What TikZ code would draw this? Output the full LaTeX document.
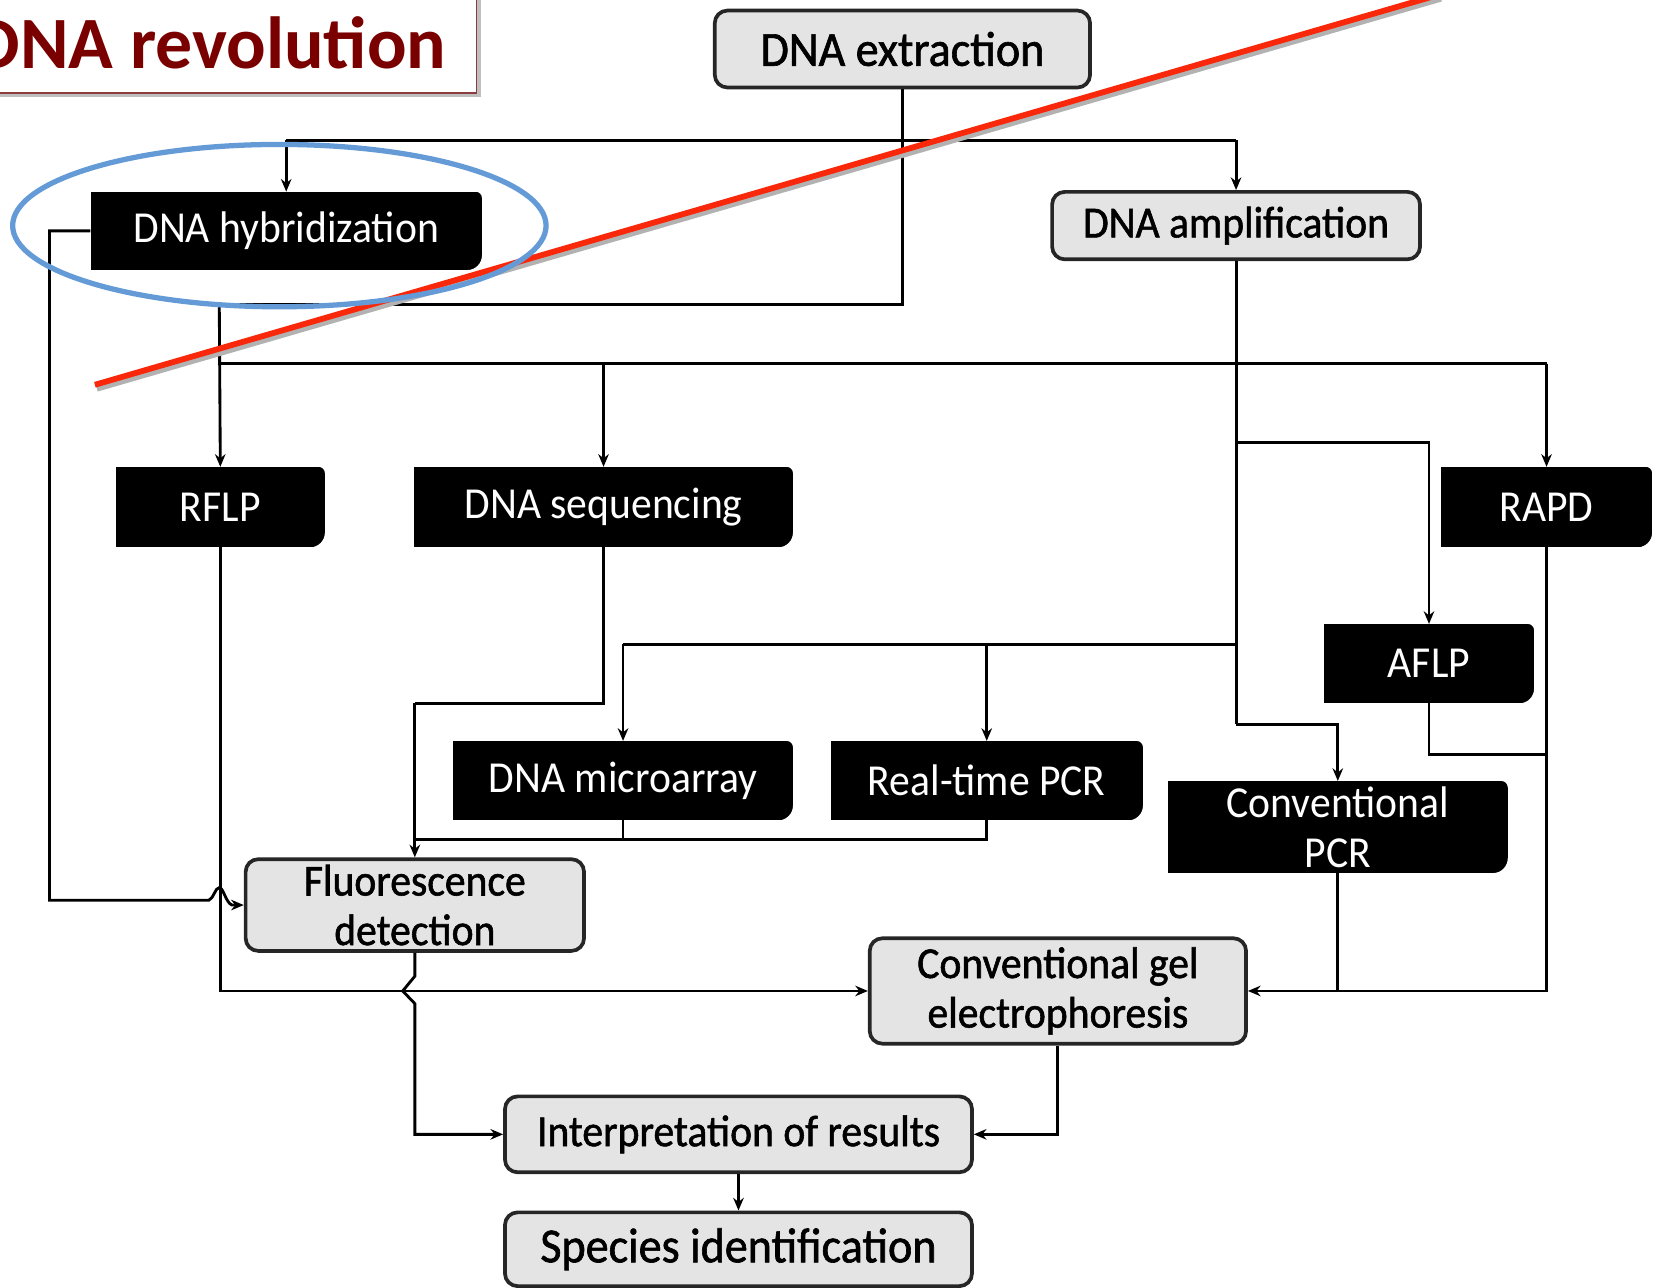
\documentclass[tikz,border=0pt]{standalone}
\usepackage{fontspec}
\setmainfont{Carlito}
\newfontfamily\boxfont[FakeStretch=0.94]{Carlito}
\newfontfamily\grayfont[FakeStretch=0.94,FakeBold=1.3]{Carlito}
\usetikzlibrary{arrows.meta,calc}
\definecolor{titlered}{RGB}{122,0,0}
\definecolor{framered}{RGB}{140,60,60}
\definecolor{ringblue}{RGB}{100,155,215}
\definecolor{slashred}{RGB}{250,40,10}
\definecolor{boxgray}{RGB}{228,228,228}
\begin{document}
\begin{tikzpicture}[x=1pt,y=-1pt,
  conn/.style={line width=2.7pt, draw=black},
  arr/.style={conn,-{Stealth[length=12pt,width=10pt]}},
  labelfont/.style={font=\boxfont\fontsize{42}{47}\selectfont},
  graybox/.style={font=\grayfont\fontsize{42}{47}\selectfont, draw=black!85, line width=3.5pt, fill=boxgray,
    rounded corners=12pt, inner sep=0pt, align=center},
  bigtext/.style={font=\grayfont\fontsize{46.5}{50}\selectfont},
  blackbox/.style={labelfont, fill=black, text=white, inner sep=0pt, align=center}
]
\useasboundingbox (0,0) rectangle (1568,1221);

% title panel
\fill[black!25] (-6,-6) rectangle (456,92);
\draw[framered, line width=1.6pt, fill=white] (-10,-10) rectangle (452,88);
\node[anchor=base east, text=titlered, font=\bfseries\fontsize{70}{78}\selectfont] (title) at (427,65) {DNA revolution};

% process boxes
\node[graybox, bigtext, minimum width=356pt, minimum height=73pt] (ext) at (856,46.5) {DNA extraction};
\node[blackbox, minimum width=371pt, minimum height=74pt] (hyb) at (271.5,219) {DNA hybridization};
\node[graybox, minimum width=349pt, minimum height=64pt] (amp) at (1172.5,214) {DNA amplification};
\node[blackbox, minimum width=198pt, minimum height=76pt] (rflp) at (209,481) {RFLP};
\node[blackbox, minimum width=359pt, minimum height=76pt] (seq) at (572.5,481) {DNA sequencing};
\node[blackbox, minimum width=200pt, minimum height=76pt] (rapd) at (1467,481) {RAPD};
\node[blackbox, minimum width=199pt, minimum height=75pt] (aflp) at (1355.5,629.5) {AFLP};
\node[blackbox, minimum width=322pt, minimum height=75pt] (micro) at (591,740.5) {DNA microarray};
\node[blackbox, minimum width=296pt, minimum height=75pt] (rt) at (936,740.5) {Real-time PCR};
\node[blackbox, minimum width=322pt, minimum height=87pt] (cpcr) at (1269,784.5) {Conventional\\PCR};
\node[graybox, minimum width=321pt, minimum height=87pt] (fluo) at (393.5,858.5) {Fluorescence\\detection};
\node[graybox, minimum width=357pt, minimum height=100pt] (gel) at (1003.5,940) {Conventional gel\\electrophoresis};
\node[graybox, minimum width=443pt, minimum height=72pt] (interp) at (700.5,1076) {Interpretation of results};
\node[graybox, bigtext, minimum width=443pt, minimum height=70pt] (species) at (700.5,1185) {Species identification};

% rounded right-hand corners of the dark boxes
\foreach \n in {hyb,rflp,seq,rapd,aflp,micro,rt,cpcr}{
  \fill[white] ($(\n.south east)+(0,-14)$) .. controls ($(\n.south east)+(0,-6.3)$) and ($(\n.south east)+(-6.3,0)$) .. ($(\n.south east)+(-14,0)$) -- ($(\n.south east)+(1,1)$) -- cycle;
  \fill[white] ($(\n.north east)+(0,6)$) .. controls ($(\n.north east)+(0,2.7)$) and ($(\n.north east)+(-2.7,0)$) .. ($(\n.north east)+(-6,0)$) -- ($(\n.north east)+(1,-1)$) -- cycle;
}

% junction points
\coordinate (eL) at (ext.south |- 0,289);
\coordinate (tL) at (208,289);
\coordinate (tS) at (208,345);
\coordinate (tR) at (rapd.north |- 0,345);
\coordinate (hA) at (hyb.north |- 0,133);
\coordinate (hB) at (amp.north |- 0,133);
\coordinate (aA) at (amp.south |- 0,420);
\coordinate (aB) at (amp.south |- 0,611);
\coordinate (aC) at (amp.south |- 0,687);
\coordinate (mA) at (micro.north |- 0,611);
\coordinate (sA) at (seq.south |- 0,667);
\coordinate (fA) at (fluo.north |- 0,667);
\coordinate (fB) at (fluo.north |- 0,796);
\coordinate (rB) at (rt.south |- 0,796);
\coordinate (hL) at (47,219);
\coordinate (hD) at (47,854);
\coordinate (rG) at (rflp.south |- gel.west);
\coordinate (pG) at (rapd.south |- gel.east);
\coordinate (aF) at (aflp.south |- 0,716);
\coordinate (pF) at (rapd.south |- 0,716);
\coordinate (fI) at (fluo.south |- interp.west);
\coordinate (gI) at (gel.south |- interp.east);

% extraction branches
\draw[conn] (ext.south) -- (eL) -- (tL);
\draw[conn] (hA) -- (hB);
\draw[arr] (hA) -- (hyb.north);
\draw[arr] (hB) -- (amp.north);
\draw[arr] (tL) -- (rflp.north);
\draw[conn] (tS) -- (tR);
\draw[arr] (tR) -- (rapd.north);
\draw[arr] (seq.north |- tS) -- (seq.north);

% amplification branches
\draw[conn] (amp.south) -- (aC);
\draw[arr] (aA) -| (aflp.north);
\draw[conn] (aB) -- (mA);
\draw[arr] (mA) -- (micro.north);
\draw[arr] (rt.north |- aB) -- (rt.north);
\draw[arr] (aC) -| (cpcr.north);

% towards fluorescence detection
\draw[conn] (seq.south) -- (sA) -- (fA);
\draw[arr] (fA) -- (fluo.north);
\draw[conn] (fB) -- (rB) -- (rt.south);
\draw[conn] (micro.south) -- (micro.south |- fB);
\draw[arr] (hyb.west) -- (hL) -- (hD) -- (198,854)
  .. controls (203,852) and (204,842) .. (208,842)
  .. controls (212,842) and (214,856) .. (220,858.5) -- (fluo.west);

% towards gel electrophoresis
\draw[arr] (rflp.south) -- (rG) -- (gel.west);
\draw[arr] (rapd.south) -- (pG) -- (gel.east);
\draw[conn] (aflp.south) -- (aF) -- (pF);
\draw[conn] (cpcr.south) -- (cpcr.south |- gel.east);

% towards interpretation
\draw[arr] (fluo.south) -- (393.5,926) -- (382,940) -- (393.5,952) -- (fI) -- (interp.west);
\draw[arr] (gel.south) -- (gI) -- (interp.east);
\draw[arr] (interp.south) -- (species.north);

% strike-through line and highlight ring
\draw[black!30, line width=5pt] (92,369) -- (1367,-1);
\draw[slashred, line width=5.5pt] (90,365) -- (1365,-5);
\draw[ringblue, line width=5pt] (265,214) ellipse [x radius=253, y radius=77];
\end{tikzpicture}
\end{document}
